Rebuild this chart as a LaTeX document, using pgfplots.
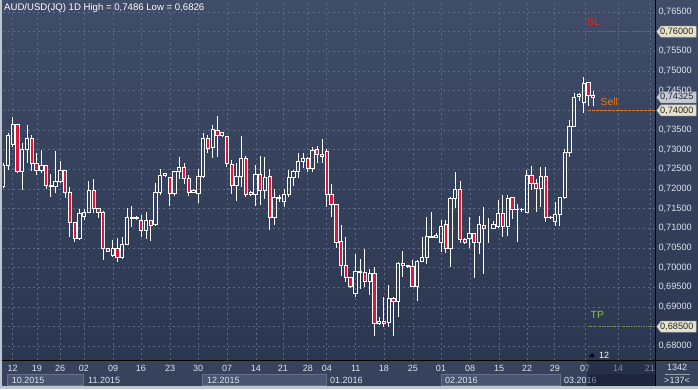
\documentclass[border=0pt]{standalone}
\usepackage{fontspec}
\setmainfont{Liberation Sans}
\usepackage{pgfplots}
\pgfplotsset{compat=1.18}
\usepackage{pgfplotstable}

\definecolor{bgtop}{RGB}{64,77,104}
\definecolor{bgbot}{RGB}{43,54,80}
\definecolor{gridc}{RGB}{92,106,136}
\definecolor{candred}{RGB}{226,20,58}
\definecolor{labc}{RGB}{220,228,240}
\definecolor{panelc}{RGB}{56,66,92}
\definecolor{monthbox}{RGB}{74,85,113}
\definecolor{monthedge}{RGB}{100,112,140}
\definecolor{tagbeige}{RGB}{232,228,204}
\definecolor{taggray}{RGB}{196,204,216}
\definecolor{slred}{RGB}{245,30,30}
\definecolor{slline}{RGB}{225,50,50}
\definecolor{sellor}{RGB}{232,118,26}
\definecolor{tpgreen}{RGB}{140,196,60}
\definecolor{tpline}{RGB}{125,156,74}
\definecolor{futc}{RGB}{20,28,52}
\definecolor{framec}{RGB}{190,196,208}

\pgfplotstableread{
i o h l c
1 0.7206 0.7266 0.7203 0.7261
2 0.7261 0.7343 0.7248 0.7337
3 0.7314 0.7384 0.7306 0.7363
4 0.7363 0.7365 0.7243 0.7244
5 0.7244 0.7316 0.7198 0.7301
6 0.7301 0.7363 0.7265 0.7329
7 0.7329 0.7337 0.7247 0.7265
8 0.7265 0.7291 0.7236 0.7247
9 0.7247 0.7299 0.7242 0.7261
10 0.7261 0.7262 0.7200 0.7209
11 0.7206 0.7238 0.7181 0.7209
12 0.7207 0.7297 0.7189 0.7220
13 0.7219 0.7270 0.7215 0.7248
14 0.7248 0.7249 0.7178 0.7191
15 0.7191 0.7206 0.7079 0.7115
16 0.7115 0.7116 0.7066 0.7075
17 0.7075 0.7149 0.7070 0.7138
18 0.7130 0.7149 0.7121 0.7141
19 0.7141 0.7221 0.7138 0.7196
20 0.7196 0.7226 0.7138 0.7151
21 0.7151 0.7152 0.7126 0.7140
22 0.7141 0.7144 0.7020 0.7049
23 0.7048 0.7049 0.7041 0.7042
24 0.7030 0.7070 0.7028 0.7049
25 0.7049 0.7075 0.7015 0.7025
26 0.7025 0.7079 0.7024 0.7059
27 0.7059 0.7153 0.7058 0.7128
28 0.7124 0.7158 0.7104 0.7128
29 0.7126 0.7131 0.7121 0.7127
30 0.7119 0.7134 0.7079 0.7094
31 0.7094 0.7142 0.7073 0.7119
32 0.7119 0.7121 0.7069 0.7107
33 0.7110 0.7215 0.7107 0.7192
34 0.7192 0.7250 0.7185 0.7235
35 0.7234 0.7241 0.7232 0.7240
36 0.7230 0.7231 0.7158 0.7189
37 0.7189 0.7247 0.7183 0.7245
38 0.7245 0.7282 0.7226 0.7255
39 0.7255 0.7265 0.7213 0.7227
40 0.7227 0.7236 0.7183 0.7192
41 0.7192 0.7200 0.7191 0.7195
42 0.7189 0.7250 0.7165 0.7232
43 0.7232 0.7342 0.7229 0.7329
44 0.7329 0.7337 0.7292 0.7304
45 0.7306 0.7363 0.7278 0.7352
46 0.7350 0.7386 0.7282 0.7336
47 0.7336 0.7345 0.7335 0.7344
48 0.7333 0.7334 0.7255 0.7265
49 0.7263 0.7274 0.7187 0.7208
50 0.7208 0.7265 0.7170 0.7231
51 0.7231 0.7335 0.7206 0.7278
52 0.7278 0.7285 0.7181 0.7187
53 0.7187 0.7196 0.7183 0.7192
54 0.7187 0.7261 0.7157 0.7238
55 0.7238 0.7284 0.7159 0.7196
56 0.7196 0.7282 0.7174 0.7230
57 0.7233 0.7251 0.7096 0.7128
58 0.7128 0.7199 0.7109 0.7179
59 0.7179 0.7185 0.7168 0.7177
60 0.7168 0.7199 0.7154 0.7187
61 0.7187 0.7248 0.7181 0.7230
62 0.7230 0.7248 0.7208 0.7244
63 0.7244 0.7291 0.7227 0.7271
64 0.7270 0.7291 0.7253 0.7278
65 0.7278 0.7282 0.7244 0.7253
66 0.7253 0.7308 0.7244 0.7299
67 0.7301 0.7309 0.7267 0.7288
68 0.7288 0.7327 0.7265 0.7282
69 0.7295 0.7301 0.7154 0.7187
70 0.7187 0.7213 0.7130 0.7161
71 0.7161 0.7162 0.7049 0.7064
72 0.7066 0.7109 0.6979 0.7005
73 0.7005 0.7077 0.6963 0.6976
74 0.6976 0.6977 0.6948 0.6952
75 0.6935 0.7035 0.6926 0.6990
76 0.6990 0.7021 0.6946 0.6988
77 0.6987 0.7048 0.6951 0.6965
78 0.6965 0.6997 0.6931 0.6984
79 0.6986 0.7001 0.6826 0.6859
80 0.6859 0.6875 0.6854 0.6863
81 0.6862 0.6926 0.6850 0.6857
82 0.6860 0.6956 0.6850 0.6922
83 0.6922 0.6926 0.6827 0.6914
84 0.6914 0.7014 0.6874 0.7011
85 0.7011 0.7043 0.6977 0.7006
86 0.7006 0.7007 0.6999 0.7004
87 0.7003 0.7020 0.6952 0.6952
88 0.6952 0.7020 0.6916 0.7017
89 0.7017 0.7079 0.7015 0.7026
90 0.7026 0.7128 0.7009 0.7079
91 0.7079 0.7141 0.7076 0.7078
92 0.7077 0.7089 0.7077 0.7083
93 0.7065 0.7121 0.7041 0.7104
94 0.7109 0.7121 0.7037 0.7049
95 0.7049 0.7180 0.7003 0.7176
96 0.7176 0.7243 0.7151 0.7199
97 0.7199 0.7220 0.7062 0.7072
98 0.7072 0.7075 0.7062 0.7064
99 0.7075 0.7128 0.7049 0.7087
100 0.7087 0.7088 0.6973 0.7064
101 0.7064 0.7131 0.7035 0.7109
102 0.7107 0.7155 0.6983 0.7100
103 0.7100 0.7126 0.7062 0.7100
104 0.7100 0.7119 0.7098 0.7109
105 0.7104 0.7172 0.7101 0.7138
106 0.7138 0.7185 0.7079 0.7104
107 0.7104 0.7185 0.7081 0.7176
108 0.7179 0.7180 0.7123 0.7147
109 0.7147 0.7162 0.7066 0.7148
110 0.7148 0.7151 0.7142 0.7147
111 0.7141 0.7248 0.7139 0.7234
112 0.7234 0.7259 0.7198 0.7215
113 0.7215 0.7225 0.7142 0.7202
114 0.7202 0.7256 0.7155 0.7233
115 0.7233 0.7255 0.7117 0.7128
116 0.7128 0.7131 0.7124 0.7127
117 0.7117 0.7167 0.7106 0.7134
118 0.7134 0.7181 0.7107 0.7179
119 0.7179 0.7301 0.7175 0.7292
120 0.7292 0.7376 0.7282 0.7359
121 0.7359 0.7443 0.7358 0.7433
122 0.7435 0.7445 0.7425 0.7441
123 0.7420 0.7486 0.7393 0.7469
124 0.7471 0.7472 0.7412 0.7437
125 0.7437 0.7448 0.7412 0.74325
}\candles

\begin{document}
\begin{tikzpicture}
\useasboundingbox (0,0) rectangle (698pt,389pt);
% backgrounds
\shade[top color=bgtop, bottom color=bgbot] (0,29pt) rectangle (698pt,389pt);
\fill[panelc] (0,3pt) rectangle (698pt,29pt);
\foreach \a/\b in {7.3/83.3, 202.3/326, 441.7/560}{
  \filldraw[fill=monthbox, draw=monthedge, line width=0.8pt] (\a pt,3.4pt) rectangle (\b pt,15pt);
}
\fill[framec] (0,0) rectangle (698pt,3pt);
\fill[framec] (0,0) rectangle (2pt,389pt);

\begin{axis}[
  at={(3pt,29pt)}, anchor=south west,
  width=652pt, height=360pt, scale only axis,
  xmin=0.937, xmax=137.97, ymin=0.67653, ymax=0.76806,
  axis line style={draw=none},
  major tick length=0pt,
  grid=major,
  major grid style={dash pattern=on 2pt off 3pt, color=gridc, line width=0.7pt},
  xtick={2.98,8.08,12.92,17.96,24.06,29.94,36.04,41.93,48.02,54.1,59.78,65.0,69.0,75.06,81.0,87.1,92.98,99.1,105.2,111.1,116.9,123.3,130.2,136.9},
  xticklabels={12,19,26,02,09,16,23,30,07,14,21,28,04,11,18,25,01,08,15,22,29,07,14,21},
  x tick label style={font=\fontsize{9}{10}\selectfont, text=labc, yshift=-2pt},
  ytick={0.680,0.685,0.690,0.695,0.700,0.705,0.710,0.715,0.720,0.725,0.730,0.735,0.740,0.745,0.750,0.755,0.760,0.765},
  yticklabels={0{,}68000,,0{,}69000,0{,}69500,0{,}70000,0{,}70500,0{,}71000,0{,}71500,0{,}72000,0{,}72500,0{,}73000,0{,}73500,,0{,}74500,0{,}75000,0{,}75500,,0{,}76500},
  yticklabel pos=right,
  y tick label style={font=\fontsize{9.2}{10}\selectfont, text=labc},
]
% upper wicks
\addplot[draw=none, mark=none, forget plot,
  error bars/.cd, y dir=both, y explicit, error mark=none,
  error bar style={draw=white, line width=1pt, solid}]
  table[x=i, y expr={max(\thisrow{o},\thisrow{c})},
        y error plus expr={\thisrow{h}-max(\thisrow{o},\thisrow{c})},
        y error minus expr={0}]{\candles};
% lower wicks
\addplot[draw=none, mark=none, forget plot,
  error bars/.cd, y dir=both, y explicit, error mark=none,
  error bar style={draw=white, line width=1pt, solid}]
  table[x=i, y expr={min(\thisrow{o},\thisrow{c})},
        y error plus expr={0},
        y error minus expr={min(\thisrow{o},\thisrow{c})-\thisrow{l}}]{\candles};
% levels
\addplot[slline, line width=1.1pt, dash pattern=on 2pt off 1.5pt] coordinates {(122.8,0.76) (138,0.76)};
\addplot[sellor, line width=0.9pt, dash pattern=on 2.5pt off 1.5pt] coordinates {(123.9,0.74) (138,0.74)};
\addplot[tpline, line width=1pt, dash pattern=on 1.2pt off 1.2pt] coordinates {(123.9,0.685) (138,0.685)};
\end{axis}

\begin{axis}[
  at={(3pt,29pt)}, anchor=south west,
  width=652pt, height=360pt, scale only axis,
  xmin=0.937, xmax=137.97, ymin=0.67653, ymax=0.76806,
  hide axis, ybar stacked, bar width=0.69,
]
\addplot[draw=none, fill=none] table[x=i, y expr={min(\thisrow{o},\thisrow{c})}]{\candles};
\addplot[draw=white, fill=none, line width=1pt] table[x=i, y expr={max(\thisrow{c}-\thisrow{o},0)}]{\candles};
\addplot[draw=white, fill=candred, line width=1pt] table[x=i, y expr={max(\thisrow{o}-\thisrow{c},0)}]{\candles};
\end{axis}

% future shade in time axis
\fill[futc, opacity=0.45] (587pt,3pt) rectangle (655pt,28pt);

% separator lines
\draw[black, line width=1.2pt] (655.5pt,3pt) -- (655.5pt,389pt);
\draw[black, line width=1.2pt] (2pt,28.4pt) -- (698pt,28.4pt);

% month labels
\foreach \x/\t in {11.7/10.2015, 88/11.2015, 207/12.2015, 330/01.2016, 445/02.2016, 564/03.2016}{
  \node[anchor=west, inner sep=0, text=labc, font=\fontsize{9}{10}\selectfont] at (\x pt,9pt) {\t};
}
\fill[futc, opacity=0.45] (587pt,3pt) rectangle (655pt,15pt);

% title
\node[anchor=west, inner sep=0, text=white, font=\fontsize{9.6}{11}\selectfont] at (4pt,381pt) {AUD/USD(JQ) 1D High = 0,7486 Low = 0,6826};

% level labels
\node[anchor=west, inner sep=0, text=slred, font=\fontsize{10.8}{12}\selectfont] at (587pt,367pt) {SL};
\node[anchor=west, inner sep=0, text=sellor, font=\fontsize{10.4}{12}\selectfont] at (600.5pt,287pt) {Sell};
\node[anchor=west, inner sep=0, text=tpgreen, font=\fontsize{10.4}{12}\selectfont] at (590.5pt,74pt) {TP};

% price tags
\foreach \yc/\t/\c in {357.3/0{,}76000/tagbeige, 278.6/0{,}74000/tagbeige, 62.3/0{,}68500/tagbeige, 291.7/0{,}74325/taggray}{
  \filldraw[fill=\c, draw=gray!60, line width=0.5pt] (656.8pt,\yc pt) -- (661pt,\yc pt+5.5pt) -- (696pt,\yc pt+5.5pt) -- (696pt,\yc pt-5.5pt) -- (661pt,\yc pt-5.5pt) -- cycle;
  \node[anchor=west, inner sep=0, text=black!85, font=\fontsize{9.2}{10}\selectfont] at (660pt,\yc pt) {\t};
}

% future marker
\fill[black!80!blue] (589pt,32pt) -- (595pt,32pt) -- (592pt,36pt) -- cycle;
\node[anchor=west, inner sep=0, text=white, font=\fontsize{9}{10}\selectfont] at (599pt,34pt) {12};

% bottom right counters
\node[text=labc, inner sep=0, font=\fontsize{9}{10}\selectfont] at (677pt,22pt) {1342};
\draw[labc!70!black, line width=0.6pt] (665pt,15pt) -- (690pt,15pt);
\node[text=labc, inner sep=0, font=\fontsize{9}{10}\selectfont] at (677pt,8.5pt) {>137<};
\end{tikzpicture}
\end{document}
